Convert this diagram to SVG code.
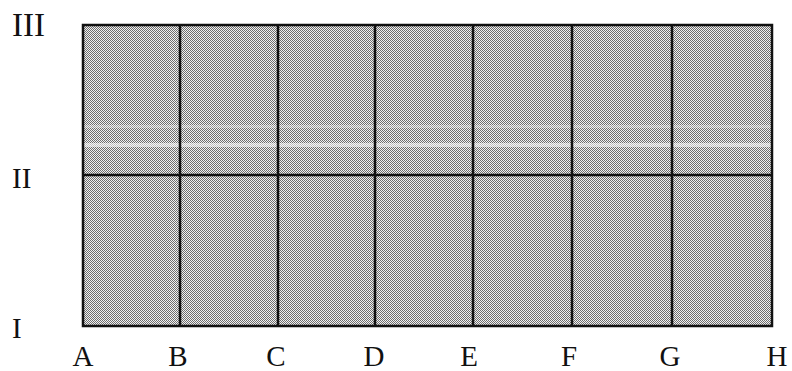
<svg xmlns="http://www.w3.org/2000/svg" width="792" height="371" viewBox="0 0 792 371">
<style>
.lbl{font-family:"Liberation Serif","Times New Roman",serif;font-size:29px;fill:#111;}
.grid{stroke:#111;stroke-width:2.5;fill:none;}
</style>
<defs>
<pattern id="dith" width="2" height="2" patternUnits="userSpaceOnUse">
<rect width="2" height="2" fill="#f2f2f2"/>
<rect width="1" height="1" fill="#6e6e6e"/>
<rect x="1" y="1" width="1" height="1" fill="#6e6e6e"/>
</pattern>
</defs>
<rect width="792" height="371" fill="#fff"/>
<g id="field">
<rect x="83" y="25" width="689" height="301" fill="url(#dith)"/>
<rect x="84" y="125" width="687" height="3" fill="#fff" opacity="0.3"/>
<rect x="84" y="143" width="687" height="4" fill="#fff" opacity="0.55"/>
</g>
<g id="connectors" class="grid">
<rect x="83" y="25" width="689" height="301"/>
<line x1="83" y1="175" x2="772" y2="175"/>
<line x1="180" y1="25" x2="180" y2="326"/>
<line x1="278" y1="25" x2="278" y2="326"/>
<line x1="375" y1="25" x2="375" y2="326"/>
<line x1="473" y1="25" x2="473" y2="326"/>
<line x1="572" y1="25" x2="572" y2="326"/>
<line x1="672" y1="25" x2="672" y2="326"/>
</g>
<g id="row-labels" class="lbl">
<text x="12" y="36" font-size="33" textLength="33" lengthAdjust="spacingAndGlyphs">III</text>
<text x="12" y="188">II</text>
<text x="12" y="338">I</text>
</g>
<g id="col-labels" class="lbl" text-anchor="middle">
<text x="83" y="366">A</text>
<text x="178" y="366">B</text>
<text x="276" y="366">C</text>
<text x="374" y="366">D</text>
<text x="469" y="366">E</text>
<text x="569" y="366">F</text>
<text x="670" y="366">G</text>
<text x="777" y="366">H</text>
</g>
</svg>
